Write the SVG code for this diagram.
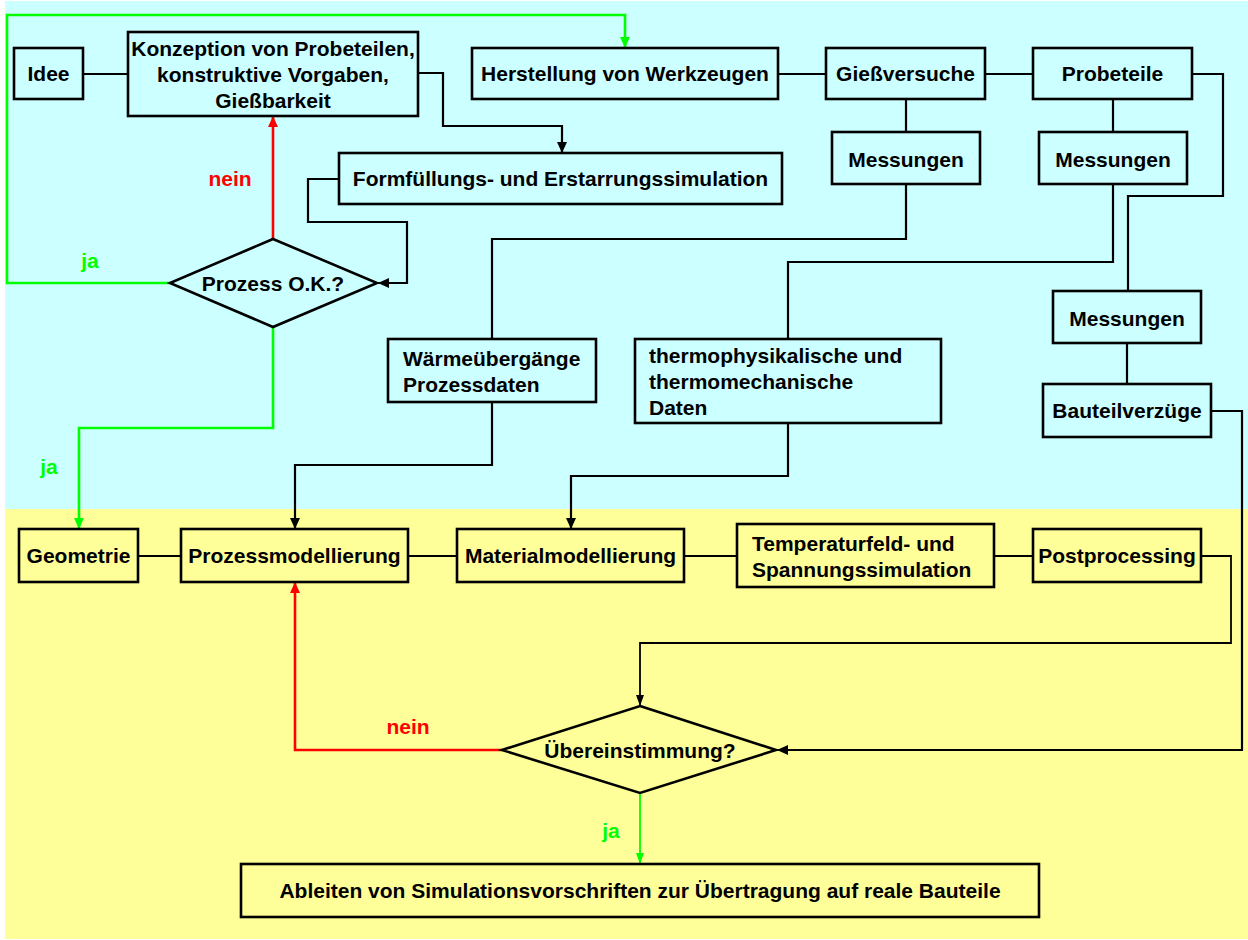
<svg xmlns="http://www.w3.org/2000/svg" width="1248" height="940" viewBox="0 0 1248 940">
<style>
.box{fill:none;stroke:#000;stroke-width:2.6}
.t{font-family:"Liberation Sans",Arial,sans-serif;font-weight:bold;font-size:21px;fill:#000}
.c{text-anchor:middle}
.ln{fill:none;stroke:#000;stroke-width:2.2}
.thin{fill:none;stroke:#000;stroke-width:1.8}
.g{fill:none;stroke:#00ff00;stroke-width:2.6}
.gt{fill:none;stroke:#00ff00;stroke-width:1.8}
.r{fill:none;stroke:#ff0000;stroke-width:2.6}
</style>
<defs>
<marker id="ab" markerUnits="userSpaceOnUse" markerWidth="11" markerHeight="10" refX="11" refY="5" orient="auto"><path d="M0,0 L11,5 L0,10 z" fill="#000"/></marker>
<marker id="abn" markerUnits="userSpaceOnUse" markerWidth="11" markerHeight="8" refX="11" refY="4" orient="auto"><path d="M0,0 L11,4 L0,8 z" fill="#000"/></marker>
<marker id="ag" markerUnits="userSpaceOnUse" markerWidth="11" markerHeight="10" refX="11" refY="5" orient="auto"><path d="M0,0 L11,5 L0,10 z" fill="#00ff00"/></marker>
<marker id="agn" markerUnits="userSpaceOnUse" markerWidth="11" markerHeight="8" refX="11" refY="4" orient="auto"><path d="M0,0 L11,4 L0,8 z" fill="#00ff00"/></marker>
<marker id="ar" markerUnits="userSpaceOnUse" markerWidth="11" markerHeight="10" refX="11" refY="5" orient="auto"><path d="M0,0 L11,5 L0,10 z" fill="#ff0000"/></marker>
</defs>
<rect x="0" y="0" width="1248" height="940" fill="#fff"/>
<rect x="5" y="1" width="1243" height="508" fill="#ccffff"/>
<rect x="5" y="509" width="1243" height="430" fill="#ffff99"/>

<g id="connectors">
<path class="ln" d="M83,74 H128"/>
<path class="ln" d="M418,73 H443 V126 H562 V153" marker-end="url(#ab)"/>
<path class="ln" d="M339,179 H308 V222 H407 V283 H378" marker-end="url(#ab)"/>
<path class="r" d="M273,239 V116" marker-end="url(#ar)"/>
<path class="g" d="M170,283 H7 V15 H625 V48" marker-end="url(#ag)"/>
<path class="g" d="M273,327 V428 H79 V529" marker-end="url(#ag)"/>
<path class="ln" d="M778,74 H826"/>
<path class="ln" d="M985,74 H1033"/>
<path class="ln" d="M906,99 V132"/>
<path class="ln" d="M1113,99 V132"/>
<path class="ln" d="M906,184 V239 H492 V339"/>
<path class="ln" d="M492,402 V465 H295 V529" marker-end="url(#ab)"/>
<path class="ln" d="M1113,184 V262 H788 V339"/>
<path class="ln" d="M788,423 V476 H571 V529" marker-end="url(#ab)"/>
<path class="ln" d="M1192,74 H1223 V196 H1128 V291"/>
<path class="ln" d="M1127,343 V384"/>
<path class="ln" d="M1211,411 H1242 V750 H777" marker-end="url(#ab)"/>
<path class="ln" d="M138,556 H181"/>
<path class="ln" d="M408,556 H457"/>
<path class="ln" d="M684,556 H737"/>
<path class="ln" d="M994,556 H1033"/>
<path class="thin" d="M1201,556 H1231 V643 H640 V706" marker-end="url(#abn)"/>
<path class="r" d="M502,750 H295 V582" marker-end="url(#ar)"/>
<path class="gt" d="M640,793 V864" marker-end="url(#agn)"/>
</g>

<g id="label-nein1"><text class="t c" x="230" y="186" style="fill:#ff0000">nein</text></g>
<g id="label-ja1"><text class="t c" x="90" y="268" style="fill:#00ff00">ja</text></g>
<g id="label-ja2"><text class="t c" x="49" y="474" style="fill:#00ff00">ja</text></g>
<g id="label-nein2"><text class="t c" x="408" y="734" style="fill:#ff0000">nein</text></g>
<g id="label-ja3"><text class="t c" x="611" y="838" style="fill:#00ff00">ja</text></g>

<g id="idee"><rect class="box" x="14" y="48" width="69" height="51"/><text class="t c" x="48.5" y="81">Idee</text></g>
<g id="konzeption"><rect class="box" x="128" y="32" width="290" height="84"/>
<text class="t c" x="273" y="56">Konzeption von Probeteilen,</text>
<text class="t c" x="273" y="82">konstruktive Vorgaben,</text>
<text class="t c" x="273" y="108">Gießbarkeit</text></g>
<g id="herstellung"><rect class="box" x="472" y="48" width="306" height="51"/><text class="t c" x="625" y="81">Herstellung von Werkzeugen</text></g>
<g id="giessversuche"><rect class="box" x="826" y="48" width="159" height="51"/><text class="t c" x="905.5" y="81">Gießversuche</text></g>
<g id="probeteile"><rect class="box" x="1033" y="48" width="159" height="51"/><text class="t c" x="1112.5" y="81">Probeteile</text></g>
<g id="messungen1"><rect class="box" x="832" y="132" width="148" height="52"/><text class="t c" x="906" y="167">Messungen</text></g>
<g id="messungen2"><rect class="box" x="1039" y="132" width="148" height="52"/><text class="t c" x="1113" y="167">Messungen</text></g>
<g id="formfuellung"><rect class="box" x="339" y="153" width="443" height="51"/><text class="t c" x="560.5" y="186">Formfüllungs- und Erstarrungssimulation</text></g>
<g id="prozess-ok"><polygon class="box" points="273,239 377,283 273,327 170,283"/><text class="t c" x="273" y="291">Prozess O.K.?</text></g>
<g id="waermeuebergaenge"><rect class="box" x="388" y="339" width="208" height="63"/>
<text class="t" x="403" y="366">Wärmeübergänge</text>
<text class="t" x="403" y="392">Prozessdaten</text></g>
<g id="thermodaten"><rect class="box" x="635" y="339" width="306" height="84"/>
<text class="t" x="649" y="363">thermophysikalische und</text>
<text class="t" x="649" y="389">thermomechanische</text>
<text class="t" x="649" y="415">Daten</text></g>
<g id="messungen3"><rect class="box" x="1053" y="291" width="148" height="52"/><text class="t c" x="1127" y="326">Messungen</text></g>
<g id="bauteilverzuege"><rect class="box" x="1043" y="384" width="168" height="53"/><text class="t c" x="1127" y="418">Bauteilverzüge</text></g>
<g id="geometrie"><rect class="box" x="19" y="529" width="119" height="53"/><text class="t c" x="78.5" y="563">Geometrie</text></g>
<g id="prozessmodellierung"><rect class="box" x="181" y="529" width="227" height="53"/><text class="t c" x="294.5" y="563">Prozessmodellierung</text></g>
<g id="materialmodellierung"><rect class="box" x="457" y="529" width="227" height="53"/><text class="t c" x="570.5" y="563">Materialmodellierung</text></g>
<g id="temperaturfeld"><rect class="box" x="737" y="524" width="257" height="63"/>
<text class="t" x="752" y="551">Temperaturfeld- und</text>
<text class="t" x="752" y="577">Spannungssimulation</text></g>
<g id="postprocessing"><rect class="box" x="1033" y="529" width="168" height="53"/><text class="t c" x="1117" y="563">Postprocessing</text></g>
<g id="uebereinstimmung"><polygon class="box" points="640,706 776,750 640,793 502,750"/><text class="t c" x="640" y="758">Übereinstimmung?</text></g>
<g id="ableiten"><rect class="box" x="241" y="864" width="798" height="53"/><text class="t c" x="640" y="898">Ableiten von Simulationsvorschriften zur Übertragung auf reale Bauteile</text></g>
</svg>
